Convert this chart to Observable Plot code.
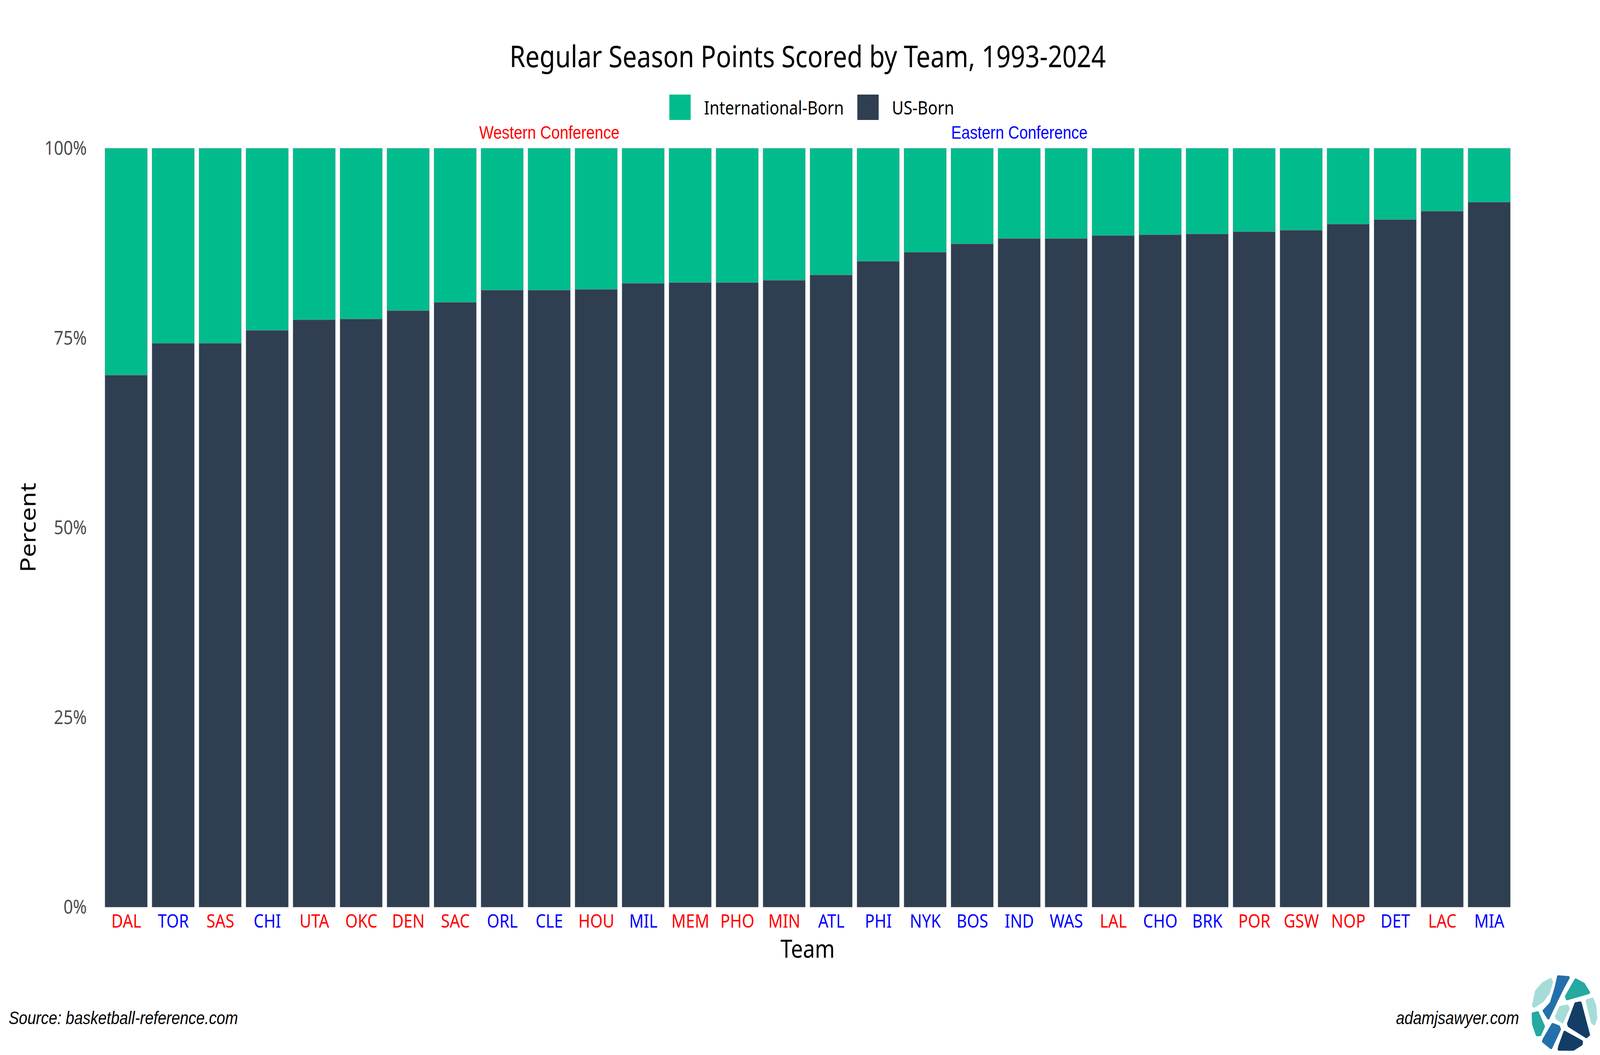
<!DOCTYPE html>
<html>
<head>
<meta charset="utf-8">
<script src="https://cdn.jsdelivr.net/npm/d3@7"></script>
<script src="https://cdn.jsdelivr.net/npm/@observablehq/plot@0.6"></script>
<style>
  html, body { margin: 0; padding: 0; background: #ffffff; width: 100%; height: 100%; overflow: hidden; }
  #page { position: absolute; left: 0; top: 0; width: 4800px; height: 2700px; background: #ffffff; overflow: hidden; transform-origin: 0 0; font-family: "Noto Sans", "Open Sans", sans-serif; }
  .abs { position: absolute; white-space: nowrap; }
  #title { left: 0; width: 4800px; top: 105px; text-align: center; font-size: 76px; color: #000; line-height: 1; }
  #titleInner { position: relative; left: 23px; }
  #legend { left: 2008px; top: 242px; height: 65px; display: flex; align-items: center; font-size: 48px; color: #000; }
  #legend .sw { width: 64px; height: 65px; display: inline-block; }
  #legend .lab { margin-left: 40px; margin-right: 40px; line-height: 1; }
  #ytitle { left: 83px; top: 1350px; font-size: 64px; color: #000; transform: translate(-50%, -50%) rotate(-90deg); line-height: 1; }
  #xtitle { left: 2423px; top: 2427px; font-size: 64px; color: #000; transform: translate(-50%, -50%); line-height: 1; }
  .foot { font-family: "Liberation Sans", Arial, sans-serif; font-style: italic; font-size: 46px; color: #000; line-height: 1; }
  #source { left: 26px; top: 2582px; }
  #site { right: 243px; top: 2582px; }
  #plot { left: 0; top: 300px; width: 4800px; }
  #logo { left: 4560px; top: 2480px; }
</style>
</head>
<body>
<div id="page">
  <div id="title" class="abs"><span id="titleInner">Regular Season Points Scored by Team, 1993-2024</span></div>
  <div id="legend" class="abs"></div>
  <div id="plot" class="abs"></div>
  <div id="ytitle" class="abs">Percent</div>
  <div id="xtitle" class="abs">Team</div>
  <div id="source" class="abs foot">Source: basketball-reference.com</div>
  <div id="site" class="abs foot">adamjsawyer.com</div>
  <svg id="logo" class="abs" width="240" height="220" viewBox="0 0 240 220">
    <g stroke-linejoin="round" stroke-width="8">
      <polygon fill="#a6dcd8" stroke="#a6dcd8" points="40,93 49,57 68,38 92,27 95,34 86,60 67,82 42,95"/>
      <polygon fill="#2470ab" stroke="#2470ab" points="115,20 145,22 129,47 110,80 85,125 72,107 93,88 107,50"/>
      <polygon fill="#26a9a0" stroke="#26a9a0" points="167,28 191,39 206,60 141,76 139,70"/>
      <polygon fill="#a6dcd8" stroke="#a6dcd8" points="201,81 217,77 225,94 228,126 222,140 217,136 208,107"/>
      <polygon fill="#a6dcd8" stroke="#a6dcd8" points="121,98 142,95 145,101 127,135 112,127 109,121"/>
      <polygon fill="#143d66" stroke="#143d66" points="167,89 181,87 206,168 199,173 147,145 145,140"/>
      <polygon fill="#26a9a0" stroke="#26a9a0" points="39,115 53,112 71,147 60,168 51,168 40,140"/>
      <polygon fill="#2470ab" stroke="#2470ab" points="98,142 116,148 119,154 93,201 70,185 72,180"/>
      <polygon fill="#143d66" stroke="#143d66" points="134,162 185,186 184,192 160,205 117,205 119,197"/>
    </g>
  </svg>
</div>
<script>
// ---- data ----
const teams = ["DAL","TOR","SAS","CHI","UTA","OKC","DEN","SAC","ORL","CLE","HOU","MIL","MEM","PHO","MIN","ATL","PHI","NYK","BOS","IND","WAS","LAL","CHO","BRK","POR","GSW","NOP","DET","LAC","MIA"];
const usBorn = [70.1,74.3,74.3,76.0,77.4,77.5,78.6,79.7,81.3,81.3,81.4,82.2,82.3,82.3,82.6,83.3,85.1,86.3,87.4,88.1,88.1,88.5,88.6,88.7,89.0,89.2,90.0,90.6,91.7,92.9];
const conference = ["West","East","West","East","West","West","West","West","East","East","West","East","West","West","West","East","East","East","East","East","East","West","East","East","West","West","West","East","West","East"];
const seriesNames = ["International-Born", "US-Born"];
const seriesColors = ["#00bc8c", "#2f3e51"];
const yTicks = [0, 25, 50, 75, 100];
const conferenceLabels = [
  {team: "CLE", text: "Western Conference", color: "#ff0000"},
  {team: "IND", text: "Eastern Conference", color: "#0000ff"}
];

// table built from the arrays
const rows = teams.map((t, i) => ({team: t, us: usBorn[i], total: 100, conf: conference[i]}));
const westTeams = teams.filter((t, i) => conference[i] === "West");
const eastTeams = teams.filter((t, i) => conference[i] === "East");

// legend
const legend = document.getElementById("legend");
seriesNames.forEach((name, i) => {
  const sw = document.createElement("span");
  sw.className = "sw";
  sw.style.background = seriesColors[i];
  const lab = document.createElement("span");
  lab.className = "lab";
  lab.textContent = name;
  legend.appendChild(sw);
  legend.appendChild(lab);
});

const chart = Plot.plot({
  width: 4800,
  height: 2170,
  marginTop: 79.5,
  marginBottom: 148.5,
  marginLeft: 282,
  marginRight: 236,
  style: {fontFamily: "Noto Sans, Open Sans, sans-serif", background: "transparent", overflow: "visible", maxWidth: "none"},
  x: {domain: teams, type: "band", paddingInner: 0.1, paddingOuter: 0.15, label: null},
  y: {domain: [0, 100], label: null},
  marks: [
    Plot.barY(rows, {x: "team", y1: "us", y2: "total", fill: seriesColors[0], stroke: "#7d8790", strokeWidth: 1, strokeOpacity: 0.7}),
    Plot.barY(rows, {x: "team", y1: 0, y2: "us", fill: seriesColors[1], stroke: "#7d8790", strokeWidth: 1, strokeOpacity: 0.7}),
    Plot.axisY(yTicks, {tickSize: 0, tickPadding: 22, fontSize: 50, fill: "#4d4d4d", tickFormat: d => d + "%", label: null}),
    Plot.axisX(westTeams, {tickSize: 0, tickPadding: 18, fontSize: 48, fill: "#ff0000", label: null}),
    Plot.axisX(eastTeams, {tickSize: 0, tickPadding: 18, fontSize: 48, fill: "#0000ff", label: null}),
    Plot.text(conferenceLabels, {x: "team", y: () => 102.03, text: "text", fill: "color", fontSize: 46, fontFamily: "Liberation Sans, Arial, sans-serif", textAnchor: "middle"})
  ]
});
chart.style.maxWidth = "none";
document.getElementById("plot").appendChild(chart);

// the browser's viewport may differ from 4800x2700: map the 4800x2700 layout onto it
function fit() {
  const w = document.documentElement.clientWidth || window.innerWidth;
  const h = document.documentElement.clientHeight || window.innerHeight;
  const sx = w / 4800, sy = h / 2700;
  const page = document.getElementById("page");
  page.style.transform = (Math.abs(sx - 1) < 0.001 && Math.abs(sy - 1) < 0.001) ? "none" : `scale(${sx}, ${sy})`;
}
fit();
window.addEventListener("resize", fit);
</script>
</body>
</html>
